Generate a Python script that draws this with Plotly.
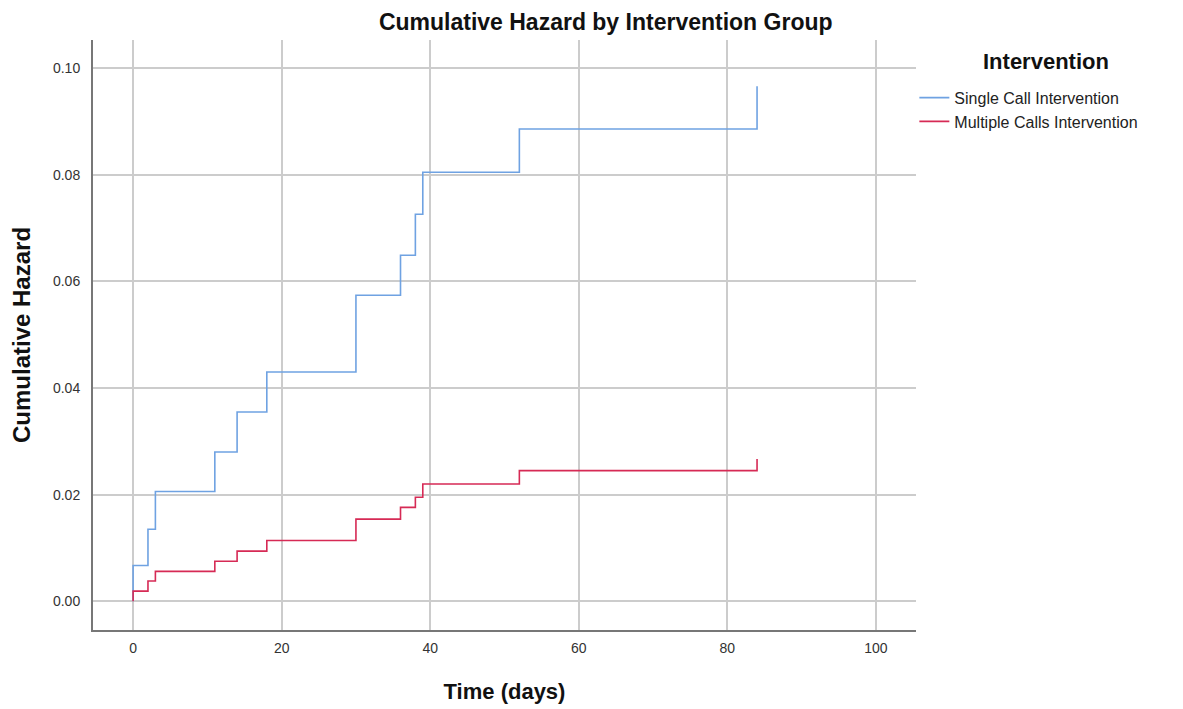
import plotly.graph_objects as go

# Data (step function: time in days, cumulative hazard)
single_time = [0, 0, 2, 3, 11, 14, 18, 30, 36, 38, 39, 52, 84, 84]
single_hazard = [0.0, 0.0067, 0.0135, 0.0206, 0.0280, 0.0355, 0.0430, 0.0574, 0.0649,
                 0.0726, 0.0805, 0.0886, 0.0886, 0.0966]

multi_time = [0, 0, 2, 3, 11, 14, 18, 30, 36, 38, 39, 52, 84, 84]
multi_hazard = [0.0, 0.0019, 0.0038, 0.0056, 0.0075, 0.0094, 0.0114, 0.0154, 0.0176,
                0.0195, 0.0220, 0.0245, 0.0245, 0.0267]

x_ticks = [0, 20, 40, 60, 80, 100]
y_ticks = [0.0, 0.02, 0.04, 0.06, 0.08, 0.10]

FONT = "Liberation Sans, Arial, sans-serif"

fig = go.Figure()
fig.add_trace(go.Scatter(
    x=single_time, y=single_hazard, mode="lines", line_shape="hv",
    name="Single Call Intervention",
    line=dict(color="#6fa2e2", width=1.6),
))
fig.add_trace(go.Scatter(
    x=multi_time, y=multi_hazard, mode="lines", line_shape="hv",
    name="Multiple Calls Intervention",
    line=dict(color="#d62a55", width=1.6),
))

fig.update_layout(
    width=1183, height=709,
    margin=dict(l=85, r=275, t=32, b=87),
    paper_bgcolor="white", plot_bgcolor="white",
    font=dict(family=FONT, color="#222222"),
    title=dict(text="<b>Cumulative Hazard by Intervention Group</b>",
               x=0.623, xref="paper", xanchor="center",
               y=1 - 14 / 709, yref="container", yanchor="middle",
               font=dict(size=23, color="#111111")),
    legend=dict(
        x=0.998, xanchor="left", y=0.931, yanchor="top",
        font=dict(size=16, color="#222222"),
        bgcolor="rgba(0,0,0,0)", tracegroupgap=0, itemwidth=30,
    ),
    annotations=[dict(
        text="<b>Intervention</b>", xref="paper", yref="paper",
        x=1.158, y=0.964, xanchor="center", yanchor="middle",
        showarrow=False, font=dict(size=22, color="#111111"),
    )],
    showlegend=True,
)

fig.update_xaxes(
    range=[-5.4, 105.4], tickvals=x_ticks, ticktext=[str(v) for v in x_ticks],
    showgrid=True, gridcolor="#cccccc", gridwidth=2,
    showline=True, linecolor="#777777", linewidth=2,
    zeroline=False, ticks="", ticklabelstandoff=4, tickfont=dict(size=14, color="#333333"),
    title=dict(text="<b>Time (days)</b>", font=dict(size=22, color="#111111"), standoff=29),
)
fig.update_yaxes(
    range=[-0.0054, 0.1053], tickvals=y_ticks, ticktext=[f"{v:.2f}" for v in y_ticks],
    showgrid=True, gridcolor="#cccccc", gridwidth=2,
    showline=True, linecolor="#777777", linewidth=2,
    zeroline=False, ticks="", ticklabelstandoff=8, tickfont=dict(size=14, color="#333333"),
    title=dict(text="<b>Cumulative Hazard</b>", font=dict(size=24, color="#111111"), standoff=16),
)

fig.write_html("out.html")
